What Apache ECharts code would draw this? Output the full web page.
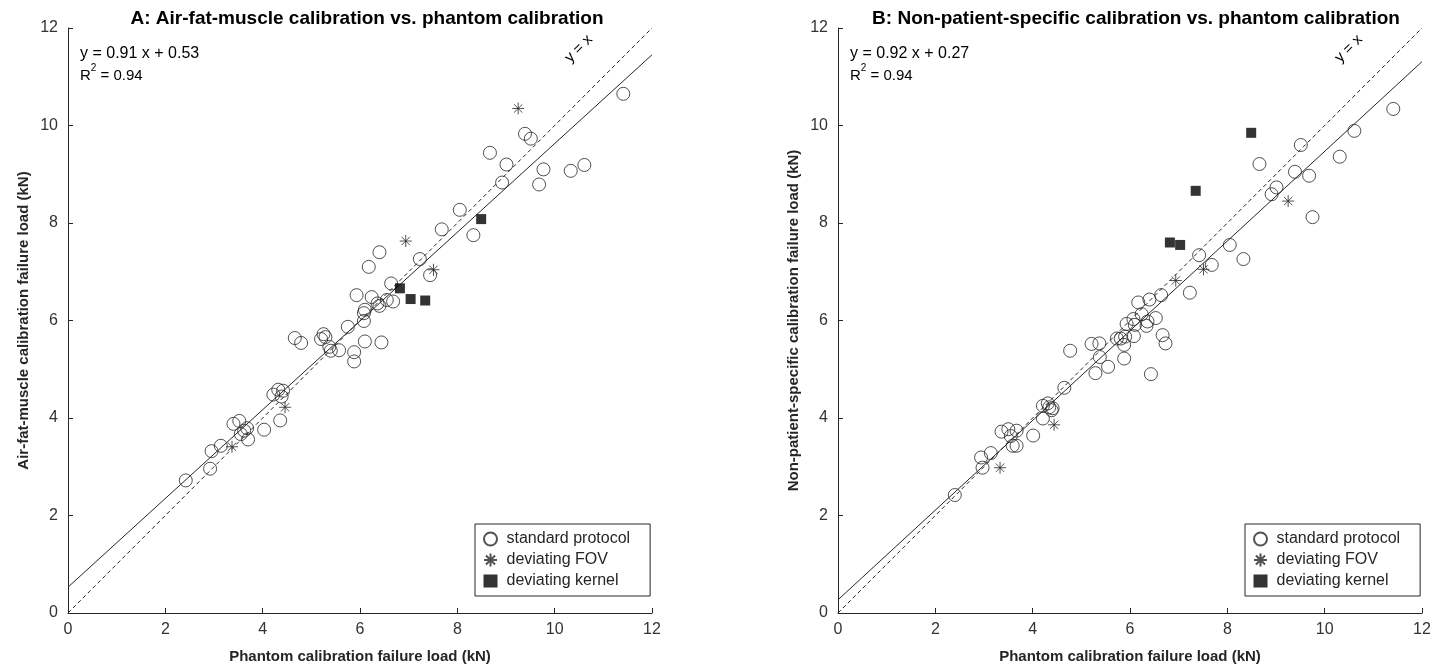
<!DOCTYPE html>
<html>
<head>
<meta charset="utf-8">
<script src="https://cdn.jsdelivr.net/npm/echarts@6/dist/echarts.min.js"></script>
<style>
  html, body { margin: 0; padding: 0; background: #fff; }
  #chart { width: 1447px; height: 672px; }
</style>
</head>
<body>
<div id="chart"></div>
<script>
// panel A: air-fat-muscle vs phantom
const standardA = [
  [2.42, 2.72], [2.92, 2.96], [2.95, 3.32], [3.14, 3.43], [3.40, 3.88], [3.52, 3.94],
  [3.55, 3.67], [3.62, 3.74], [3.68, 3.79], [3.70, 3.56], [4.03, 3.76], [4.36, 3.95],
  [4.22, 4.48], [4.32, 4.58], [4.39, 4.44], [4.42, 4.56], [4.66, 5.64], [4.79, 5.54],
  [5.20, 5.62], [5.25, 5.72], [5.29, 5.66], [5.37, 5.46], [5.40, 5.38], [5.57, 5.39],
  [5.75, 5.87], [5.88, 5.35], [5.88, 5.16], [5.93, 6.52], [6.10, 5.57], [6.10, 6.22],
  [6.08, 6.15], [6.08, 5.99], [6.18, 7.10], [6.24, 6.48], [6.36, 6.35], [6.40, 6.30],
  [6.40, 7.40], [6.44, 5.55], [6.55, 6.42], [6.64, 6.76], [6.68, 6.39], [7.23, 7.26],
  [7.44, 6.93], [7.68, 7.87], [8.05, 8.27], [8.33, 7.75], [8.67, 9.44], [8.92, 8.83],
  [9.01, 9.20], [9.39, 9.83], [9.51, 9.73], [9.68, 8.79], [9.77, 9.10], [10.33, 9.07],
  [10.61, 9.19], [11.41, 10.65]
]
const fovA = [[3.37, 3.41], [4.46, 4.22], [6.94, 7.63], [7.51, 7.04], [9.25, 10.35]]
const kernelA = [[6.82, 6.66], [7.04, 6.44], [7.34, 6.41], [8.49, 8.08]]
const fitA = { slope: 0.91, intercept: 0.53, r2: 0.94 }

// panel B: non-patient-specific vs phantom
const standardB = [
  [2.40, 2.42], [2.94, 3.19], [2.97, 2.98], [3.14, 3.28], [3.36, 3.72], [3.50, 3.77],
  [3.55, 3.63], [3.59, 3.43], [3.67, 3.43], [3.67, 3.74], [4.01, 3.64], [4.21, 4.25],
  [4.21, 3.99], [4.31, 4.30], [4.34, 4.22], [4.39, 4.16], [4.41, 4.20], [4.65, 4.62],
  [4.77, 5.38], [5.21, 5.52], [5.29, 4.92], [5.37, 5.53], [5.38, 5.25], [5.55, 5.05],
  [5.73, 5.63], [5.81, 5.63], [5.88, 5.50], [5.88, 5.22], [5.90, 5.67], [5.93, 5.93],
  [6.07, 6.03], [6.08, 5.68], [6.10, 5.91], [6.17, 6.37], [6.24, 6.13], [6.34, 5.89],
  [6.36, 5.98], [6.40, 6.43], [6.43, 4.90], [6.53, 6.05], [6.64, 6.52], [6.67, 5.70],
  [6.73, 5.53], [7.23, 6.57], [7.42, 7.34], [7.68, 7.14], [8.05, 7.55], [8.33, 7.26],
  [8.66, 9.21], [8.91, 8.59], [9.01, 8.73], [9.39, 9.05], [9.51, 9.60], [9.68, 8.97],
  [9.75, 8.12], [10.31, 9.36], [10.61, 9.89], [11.41, 10.34]
]
const fovB = [[3.33, 2.98], [4.44, 3.86], [6.94, 6.82], [7.51, 7.05], [9.25, 8.45]]
const kernelB = [[6.82, 7.60], [7.03, 7.55], [7.35, 8.66], [8.49, 9.85]]
const fitB = { slope: 0.92, intercept: 0.27, r2: 0.94 }

const axisTicks = [0, 2, 4, 6, 8, 10, 12]
const legendNames = ['standard protocol', 'deviating FOV', 'deviating kernel']

const ink = '#262626'
const font = 'Arial, "Liberation Sans", sans-serif'
const starPath = 'path://M0,-10L0,10M-10,0L10,0M-7,-7L7,7M-7,7L7,-7'

const chart = echarts.init(document.getElementById('chart'))

const makeX = (gridIndex) => ({
  gridIndex, type: 'value', min: 0, max: 12, interval: 2,
  name: 'Phantom calibration failure load (kN)',
  nameLocation: 'middle', nameGap: 36,
  nameTextStyle: { fontFamily: font, fontSize: 15, fontWeight: 'bold', color: ink },
  axisLine: { show: true, lineStyle: { color: ink, width: 1 } },
  axisTick: { show: true, inside: true, length: 5, lineStyle: { color: ink } },
  axisLabel: { fontFamily: font, fontSize: 16, color: '#333', margin: 9,
    formatter: v => axisTicks.includes(v) ? String(v) : '' },
  splitLine: { show: false }
})

const makeY = (gridIndex, name) => ({
  gridIndex, type: 'value', min: 0, max: 12, interval: 2,
  name, nameLocation: 'middle', nameGap: 37,
  nameTextStyle: { fontFamily: font, fontSize: 15, fontWeight: 'bold', color: ink },
  axisLine: { show: true, onZero: false, lineStyle: { color: ink, width: 1 } },
  axisTick: { show: true, inside: true, length: 5, lineStyle: { color: ink } },
  axisLabel: { fontFamily: font, fontSize: 16, color: '#333', margin: 10,
    formatter: v => axisTicks.includes(v) ? String(v) : '' },
  splitLine: { show: false }
})

const panelSeries = (idx, standard, fov, kernel, fit) => [
  {
    type: 'line', xAxisIndex: idx, yAxisIndex: idx, silent: true,
    data: [[0, 0], [12, 12]], symbol: 'none',
    lineStyle: { color: ink, width: 1, type: [4, 3] }, z: 1
  },
  {
    type: 'line', xAxisIndex: idx, yAxisIndex: idx, silent: true,
    data: [[0, fit.intercept], [12, fit.slope * 12 + fit.intercept]], symbol: 'none',
    lineStyle: { color: ink, width: 1 }, z: 1
  },
  {
    name: 'standard protocol', type: 'scatter', xAxisIndex: idx, yAxisIndex: idx,
    data: standard, symbol: 'circle', symbolSize: 13,
    itemStyle: { color: 'rgba(255,255,255,0)', borderColor: ink, borderWidth: 1 }, z: 3
  },
  {
    name: 'deviating FOV', type: 'scatter', xAxisIndex: idx, yAxisIndex: idx,
    data: fov, symbol: starPath, symbolSize: 12,
    itemStyle: { color: 'rgba(255,255,255,0)', borderColor: ink, borderWidth: 1 }, z: 3
  },
  {
    name: 'deviating kernel', type: 'scatter', xAxisIndex: idx, yAxisIndex: idx,
    data: kernel, symbol: 'rect', symbolSize: 10,
    itemStyle: { color: '#000' }, z: 4
  }
]

const legendBox = (left) => ({
  data: legendNames, orient: 'vertical', left, top: 524,
  padding: [7, 20, 7, 8], itemGap: 5,
  itemWidth: 14, itemHeight: 13,
  borderColor: ink, borderWidth: 1, backgroundColor: '#fff',
  textStyle: { fontFamily: font, fontSize: 16, color: ink, padding: [0, 0, 0, 4] },
  selectedMode: false
})

const fitText = (left, fit) => ([
  {
    type: 'text', left, top: 46,
    style: { text: `y = ${fit.slope.toFixed(2)} x + ${fit.intercept.toFixed(2)}`,
      font: `16px ${font}`, fill: '#000' }
  },
  {
    type: 'text', left, top: 63,
    style: {
      text: '{b|R}{s|2}{b| = ' + fit.r2.toFixed(2) + '}',
      rich: {
        b: { fontFamily: font, fontSize: 15, fill: '#000', color: '#000', lineHeight: 20, verticalAlign: 'bottom' },
        s: { fontFamily: font, fontSize: 10, fill: '#000', color: '#000', lineHeight: 20, verticalAlign: 'top', padding: [0, 0, 7, 0] }
      }
    }
  }
])

const option = {
  animation: false,
  backgroundColor: '#fff',
  title: [
    { text: 'A: Air-fat-muscle calibration vs. phantom calibration', left: 362, top: 4, textAlign: 'center',
      textStyle: { fontFamily: font, fontSize: 19, fontWeight: 'bold', color: '#000' } },
    { text: 'B: Non-patient-specific calibration vs. phantom calibration', left: 1131, top: 4, textAlign: 'center',
      textStyle: { fontFamily: font, fontSize: 19, fontWeight: 'bold', color: '#000' } }
  ],
  grid: [
    { left: 68, right: 795, top: 28, bottom: 59 },
    { left: 838, right: 25, top: 28, bottom: 59 }
  ],
  xAxis: [makeX(0), makeX(1)],
  yAxis: [
    makeY(0, 'Air-fat-muscle calibration failure load (kN)'),
    makeY(1, 'Non-patient-specific calibration failure load (kN)')
  ],
  legend: [legendBox(475), legendBox(1245)],
  series: [
    ...panelSeries(0, standardA, fovA, kernelA, fitA),
    ...panelSeries(1, standardB, fovB, kernelB, fitB)
  ],
  graphic: [
    ...fitText(80, fitA),
    ...fitText(850, fitB),
    { type: 'text', x: 584, y: 54, rotation: Math.PI / 4,
      style: { text: 'y = x', font: `15px ${font}`, fill: '#000', align: 'center', verticalAlign: 'bottom' } },
    { type: 'text', x: 1354, y: 54, rotation: Math.PI / 4,
      style: { text: 'y = x', font: `15px ${font}`, fill: '#000', align: 'center', verticalAlign: 'bottom' } }
  ]
}

chart.setOption(option)
</script>
</body>
</html>
